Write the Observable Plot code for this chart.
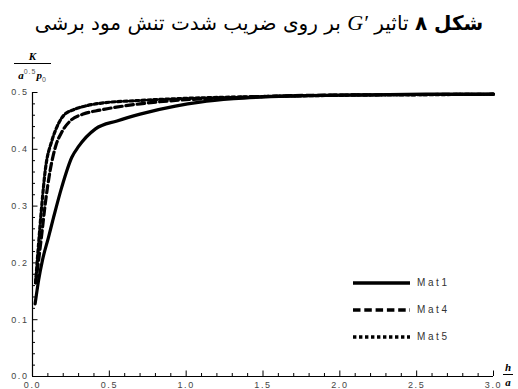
<!DOCTYPE html>
<html>
<head>
<meta charset="utf-8">
<script src="https://cdn.jsdelivr.net/npm/d3@7"></script>
<script src="https://cdn.jsdelivr.net/npm/@observablehq/plot@0.6"></script>
<style>
  html, body { margin: 0; padding: 0; background: white; }
  #wrap { position: relative; width: 518px; height: 389px; overflow: hidden; background: white; }
  #title { position: absolute; top: 8px; left: 0; width: 518px; text-align: center; direction: rtl;
           font-family: "DejaVu Sans", serif; font-size: 20px; line-height: 30px; color: #000; }
  #title .g { font-family: "Liberation Serif", "DejaVu Serif", serif; font-style: italic; font-size: 22px;
              direction: ltr; unicode-bidi: isolate; }
  #chart { position: absolute; top: 48px; left: 0; }
  .frac { position: absolute; text-align: center; font-family: "Liberation Serif", "DejaVu Serif", serif;
          font-weight: bold; font-style: italic; color: #000; }
  .frac .num, .frac .den { display: block; line-height: 11px; font-size: 11px; }
  .frac .bar { display: block; border-top: 1.3px solid #000; margin: 1px 0 2px 0; }
  .frac sup, .frac sub { font-family: "Liberation Sans", sans-serif; font-weight: normal; font-style: normal;
          font-size: 7px; color: #555; letter-spacing: 1px; }
  #legend { position: absolute; left: 353px; top: 269px; font-family: "Liberation Sans", Arial, sans-serif;
            font-size: 10px; letter-spacing: 2.6px; color: #333; }
  #legend .row { height: 27px; display: flex; align-items: center; }
  #legend svg { margin-right: 7px; }
</style>
</head>
<body>
<div id="wrap">
  <div id="title"><b>شکل ۸</b> تاثیر <span class="g">G′</span> بر روی ضریب شدت تنش مود برشی</div>
  <div id="chart"></div>
  <div class="frac" style="left:14px; top:51px; width:37px;">
    <span class="num">K</span><span class="bar"></span><span class="den">a<sup>0.5</sup>p<sub>0</sub></span>
  </div>
  <div class="frac" style="left:503px; top:362px; width:10px;">
    <span class="num">h</span><span class="bar"></span><span class="den">a</span>
  </div>
  <div id="legend"></div>
</div>
<script>
// Series names
const seriesNames = ["Mat1", "Mat4", "Mat5"];

// Mat1 (solid)
const hMat1 = [0.017, 0.04, 0.065, 0.104, 0.137, 0.19, 0.256, 0.3, 0.41, 0.55, 0.7, 0.93, 1.09, 1.31, 1.74, 2.2, 2.6, 3.0];
const kMat1 = [0.128, 0.17, 0.205, 0.245, 0.28, 0.333, 0.386, 0.405, 0.436, 0.45, 0.462, 0.476, 0.483, 0.489, 0.494, 0.496, 0.497, 0.497];

// Mat4 (dashed)
const hMat4 = [0.02, 0.04, 0.06, 0.083, 0.115, 0.15, 0.19, 0.25, 0.33, 0.44, 0.7, 0.93, 1.2, 1.5, 1.8, 2.3, 3.0];
const kMat4 = [0.165, 0.205, 0.25, 0.304, 0.363, 0.405, 0.43, 0.451, 0.462, 0.469, 0.48, 0.486, 0.49, 0.493, 0.495, 0.496, 0.497];

// Mat5 (dotted)
const hMat5 = [0.02, 0.04, 0.06, 0.083, 0.126, 0.16, 0.204, 0.27, 0.356, 0.44, 0.7, 0.93, 1.5, 2.0, 2.5, 3.0];
const kMat5 = [0.165, 0.235, 0.3, 0.363, 0.415, 0.44, 0.46, 0.47, 0.477, 0.481, 0.486, 0.489, 0.493, 0.495, 0.496, 0.497];

// Tick values
const xMajorTicks = [0, 0.5, 1.0, 1.5, 2.0, 2.5, 3.0];
const yMajorTicks = [0, 0.1, 0.2, 0.3, 0.4, 0.5];
const xMinorTicks = d3.range(0, 3.0001, 0.1).filter(v => Math.abs(v * 2 - Math.round(v * 2)) > 1e-6);
const yMinorTicks = d3.range(0, 0.5001, 0.02).filter(v => Math.abs(v * 10 - Math.round(v * 10)) > 1e-6);

const dashes = { Mat1: null, Mat4: "7.5,3.8", Mat5: "3.4,2.6" };

function toRows(name, hs, ks) { return hs.map((h, i) => ({ series: name, h, k: ks[i] })); }
const seriesData = [
  toRows("Mat1", hMat1, kMat1),
  toRows("Mat4", hMat4, kMat4),
  toRows("Mat5", hMat5, kMat5)
];

const fmt = d3.format(".1f");

const chart = Plot.plot({
  width: 518,
  height: 341,
  marginTop: 44,
  marginBottom: 13,
  marginLeft: 32,
  marginRight: 25,
  x: { domain: [0, 3] },
  y: { domain: [0, 0.5] },
  style: { fontFamily: "Liberation Sans, Arial, sans-serif", fontSize: "9px", letterSpacing: "1.6px",
           color: "black", background: "white", overflow: "visible" },
  marks: [
    Plot.axisY(yMinorTicks, { tickSize: -3, text: null, label: null, strokeWidth: 1 }),
    Plot.axisY(yMajorTicks, { tickSize: -5.5, text: null, label: null, strokeWidth: 1 }),
    Plot.axisY(yMajorTicks, { tickSize: 0, tickPadding: 4, tickFormat: fmt, label: null, fill: "#444" }),
    Plot.axisX(xMinorTicks, { tickSize: -3, text: null, label: null, strokeWidth: 1 }),
    Plot.axisX(xMajorTicks, { tickSize: -5.5, text: null, label: null, strokeWidth: 1 }),
    Plot.axisX(xMajorTicks, { tickSize: 0, tickPadding: 5, tickFormat: fmt, label: null, fill: "#444" }),
    Plot.ruleY([0], { stroke: "black", strokeWidth: 1.2 }),
    Plot.ruleX([0], { stroke: "black", strokeWidth: 1.2 }),
    ...seriesData.map(rows => Plot.line(rows, {
      x: "h", y: "k", stroke: "black", strokeWidth: 3.2,
      strokeDasharray: dashes[rows[0].series], curve: "monotone-x"
    }))
  ]
});
document.getElementById("chart").appendChild(chart);

// Legend
const legend = d3.select("#legend");
seriesNames.forEach(name => {
  const row = legend.append("div").attr("class", "row");
  const svg = row.append("svg").attr("width", 57).attr("height", 6);
  svg.append("line").attr("x1", 0).attr("x2", 57).attr("y1", 3).attr("y2", 3)
    .attr("stroke", "black").attr("stroke-width", 3.4)
    .attr("stroke-dasharray", dashes[name]);
  row.append("span").text(name);
});
</script>
</body>
</html>
